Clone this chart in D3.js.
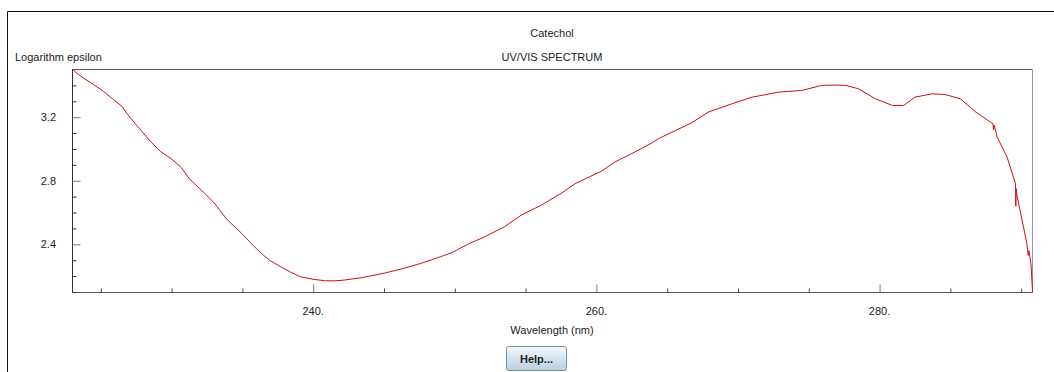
<!DOCTYPE html>
<html>
<head>
<meta charset="utf-8">
<script src="https://cdn.jsdelivr.net/npm/d3@7/dist/d3.min.js"></script>
<style>
  html, body { margin: 0; padding: 0; background: #fff; }
  svg { display: block; font-family: "Liberation Sans", Arial, sans-serif; }
</style>
</head>
<body>
<svg id="chart" width="1054" height="372"></svg>
<script>
// UV/VIS absorption spectrum of catechol (log epsilon vs wavelength)
const wavelength = [
  223.0, 223.4, 223.8, 224.5, 225.2, 225.9, 226.5, 226.9, 227.6, 228.5,
  229.2, 229.9, 230.6, 231.3, 232.3, 233.0, 233.9, 234.9, 235.8, 236.5,
  237.0, 237.7, 238.4, 239.1, 240.0, 240.8, 241.5, 242.2, 243.4, 245.0,
  246.4, 247.6, 249.0, 249.8, 250.9, 252.1, 253.5, 254.7, 256.1, 257.5,
  258.5, 260.4, 261.3, 262.5, 263.9, 264.4, 265.6, 266.7, 267.9, 269.6,
  271.0, 272.9, 274.5, 275.9, 277.0, 277.6, 278.5, 279.7, 280.9, 281.7,
  282.5, 283.7, 284.6, 285.7, 286.8, 288.0, 288.05, 288.1, 288.3, 289.0,
  289.6, 289.62, 289.65, 289.7, 290.4, 290.5, 290.55, 290.7, 290.8
];
const logEpsilon = [
  3.500, 3.470, 3.445, 3.404, 3.362, 3.310, 3.268, 3.216, 3.142, 3.048,
  2.985, 2.943, 2.891, 2.808, 2.724, 2.661, 2.557, 2.473, 2.389, 2.330,
  2.295, 2.259, 2.225, 2.196, 2.180, 2.171, 2.170, 2.175, 2.190, 2.218,
  2.249, 2.280, 2.322, 2.348, 2.400, 2.447, 2.510, 2.584, 2.646, 2.720,
  2.782, 2.862, 2.918, 2.971, 3.037, 3.065, 3.117, 3.163, 3.232, 3.285,
  3.326, 3.358, 3.368, 3.400, 3.402, 3.400, 3.379, 3.316, 3.274, 3.274,
  3.326, 3.347, 3.343, 3.316, 3.232, 3.159, 3.120, 3.150, 3.075, 2.950,
  2.782, 2.640, 2.750, 2.709, 2.406, 2.330, 2.360, 2.270, 2.100
];
const xMajorTicks = [240, 260, 280];
const xMinorTicks = [225, 230, 235, 245, 250, 255, 265, 270, 275, 285, 290];
const yMajorTicks = [2.4, 2.8, 3.2];
const yMinorTicks = [2.1, 2.2, 2.3, 2.5, 2.6, 2.7, 2.9, 3.0, 3.1, 3.3, 3.4];

const chartTitle = "Catechol";
const chartSubtitle = "UV/VIS SPECTRUM";
const yTitle = "Logarithm epsilon";
const xTitle = "Wavelength (nm)";

const svg = d3.select("#chart");
const plot = { left: 72.5, right: 1032.5, top: 69.5, bottom: 292 };

const x = d3.scaleLinear().domain([223, 290.8]).range([plot.left, plot.right]);
const y = d3.scaleLinear().domain([2.1, 3.5]).range([plot.bottom, plot.top]);

// outer panel edge
svg.append("path")
  .attr("d", "M7.5,372 V11.5 H1054")
  .attr("fill", "none").attr("stroke", "#111").attr("stroke-width", 1);

// titles
svg.append("text").attr("x", 552).attr("y", 37).attr("text-anchor", "middle")
  .attr("font-size", 11).attr("fill", "#222").text(chartTitle);
svg.append("text").attr("x", 552).attr("y", 61).attr("text-anchor", "middle")
  .attr("font-size", 11).attr("fill", "#222").text(chartSubtitle);
svg.append("text").attr("x", 15).attr("y", 61).attr("text-anchor", "start")
  .attr("font-size", 11).attr("fill", "#222").text(yTitle);

// plot frame: top and right edges
svg.append("line").attr("x1", plot.left).attr("x2", plot.right)
  .attr("y1", plot.top).attr("y2", plot.top).attr("stroke", "#555");
svg.append("line").attr("x1", plot.right).attr("x2", plot.right)
  .attr("y1", plot.top).attr("y2", plot.bottom).attr("stroke", "#999");

// bottom axis, ticks pointing inward
const xAxisMinor = d3.axisTop(x).tickValues(xMinorTicks).tickSize(4).tickFormat("");
const xAxisMajor = d3.axisTop(x).tickValues(xMajorTicks).tickSize(8).tickFormat("");
const gxMinor = svg.append("g").attr("transform", `translate(0,${plot.bottom})`).call(xAxisMinor);
const gxMajor = svg.append("g").attr("transform", `translate(0,${plot.bottom})`).call(xAxisMajor);
[gxMinor, gxMajor].forEach(g => {
  g.select(".domain").attr("stroke", "#555").attr("d", `M${plot.left},0.5H${plot.right}`);
  g.selectAll(".tick line").attr("stroke", "#444").attr("transform", "translate(0,0.5)");
});
gxMajor.selectAll(".tick line").attr("stroke", "#777");

svg.selectAll(".xlabel").data(xMajorTicks).enter().append("text")
  .attr("class", "xlabel")
  .attr("x", d => x(d)).attr("y", 315)
  .attr("text-anchor", "middle").attr("font-size", 11).attr("fill", "#222")
  .text(d => d + ".");

svg.append("text").attr("x", 552).attr("y", 334).attr("text-anchor", "middle")
  .attr("font-size", 11).attr("fill", "#222").text(xTitle);

// left axis, ticks pointing inward
const yAxisMinor = d3.axisRight(y).tickValues(yMinorTicks).tickSize(4).tickFormat("");
const yAxisMajor = d3.axisRight(y).tickValues(yMajorTicks).tickSize(8).tickFormat("");
const gyMinor = svg.append("g").attr("transform", `translate(${plot.left},0)`).call(yAxisMinor);
const gyMajor = svg.append("g").attr("transform", `translate(${plot.left},0)`).call(yAxisMajor);
[gyMinor, gyMajor].forEach(g => {
  g.select(".domain").attr("stroke", "#333").attr("d", `M0,${plot.top}V${plot.bottom}`);
  g.selectAll(".tick line").attr("stroke", "#333");
});
gyMajor.selectAll(".tick line").attr("stroke", "#777");

svg.selectAll(".ylabel").data(yMajorTicks).enter().append("text")
  .attr("class", "ylabel")
  .attr("x", 56).attr("y", d => y(d) + 4)
  .attr("text-anchor", "end").attr("font-size", 11).attr("fill", "#222")
  .text(d => d.toFixed(1));

// spectrum curve
const points = wavelength.map((w, i) => [w, logEpsilon[i]]);
const line = d3.line().x(d => x(d[0])).y(d => y(d[1]));
svg.append("path").datum(points)
  .attr("d", line)
  .attr("fill", "none")
  .attr("stroke", "#cc1010")
  .attr("stroke-width", 1)
  .attr("stroke-linejoin", "round");

// Help button
const defs = svg.append("defs");
const grad = defs.append("linearGradient").attr("id", "btnGrad")
  .attr("x1", 0).attr("y1", 0).attr("x2", 0).attr("y2", 1);
grad.append("stop").attr("offset", "0%").attr("stop-color", "#f4f8fb");
grad.append("stop").attr("offset", "100%").attr("stop-color", "#b9cfe2");
svg.append("rect").attr("x", 506.5).attr("y", 346.5).attr("width", 60).attr("height", 24)
  .attr("rx", 2).attr("fill", "url(#btnGrad)").attr("stroke", "#7d8fa3");
svg.append("text").attr("x", 536.5).attr("y", 362.5).attr("text-anchor", "middle")
  .attr("font-size", 11).attr("font-weight", "bold").attr("fill", "#222").text("Help...");
</script>
</body>
</html>
